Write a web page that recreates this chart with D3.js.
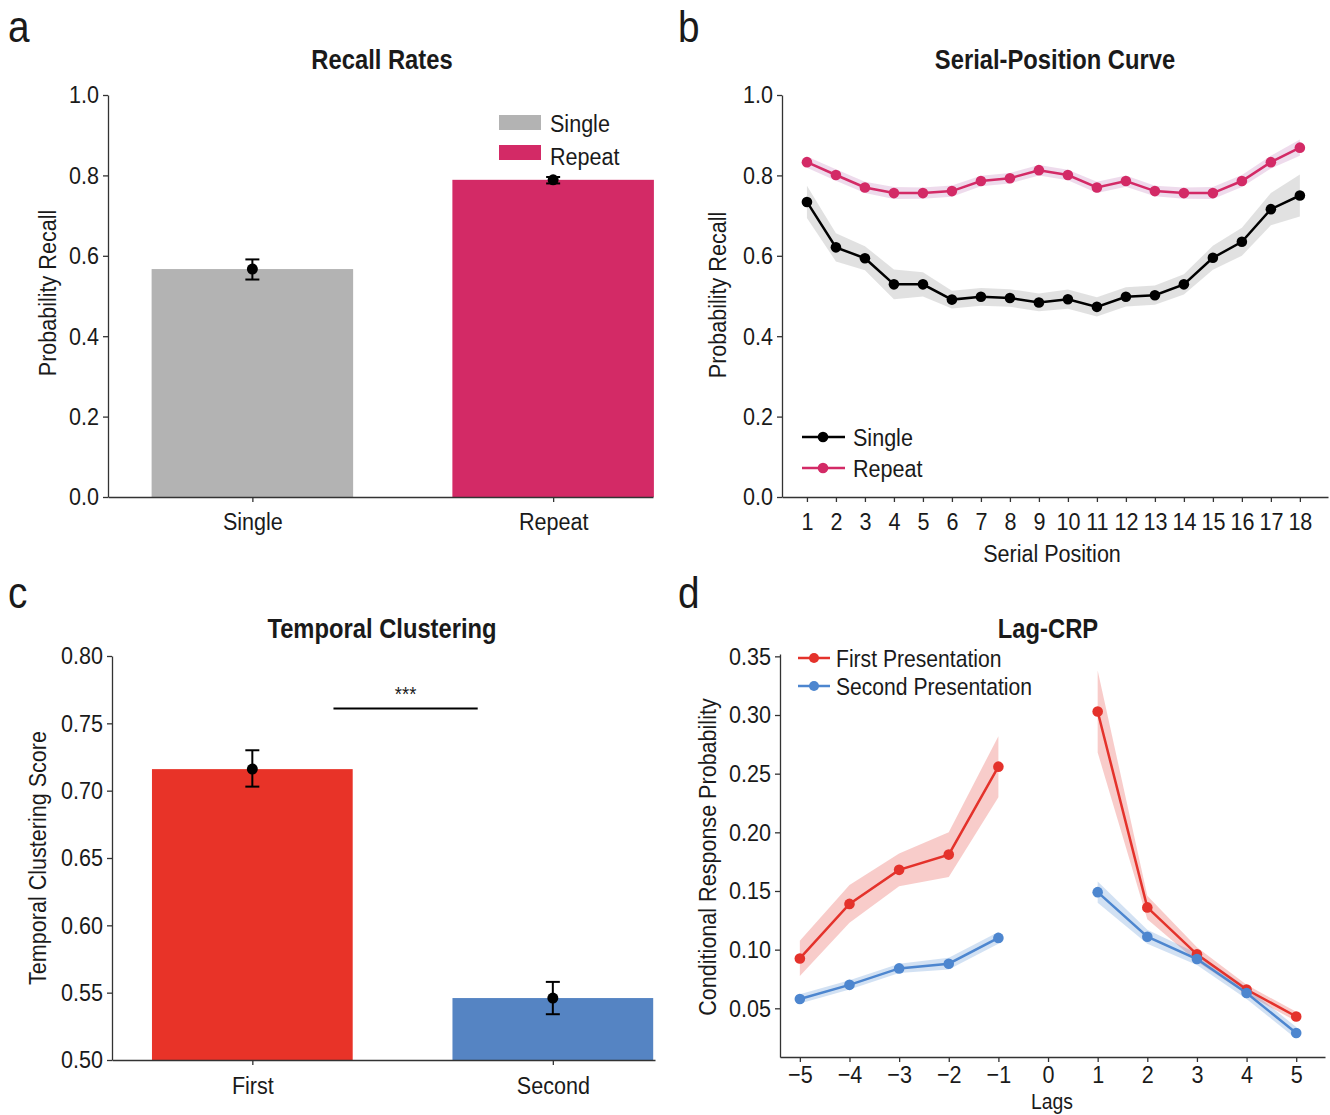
<!DOCTYPE html>
<html>
<head>
<meta charset="utf-8">
<script src="https://cdn.jsdelivr.net/npm/d3@7"></script>
<style>
  body { margin: 0; background: #fff; }
  svg text { font-family: "Liberation Sans", Arial, sans-serif; fill: #1a1a1a; }
  .axis path, .axis line { stroke: #333; stroke-width: 1.3; }
  .axis text { font-size: 24.5px; }
</style>
</head>
<body>
<svg id="fig" width="1330" height="1115"></svg>
<script>
// panel a: recall rates
const recallCats = ['Single', 'Repeat'];
const recallMeans = [0.567, 0.789];
const recallLo = [0.541, 0.780];
const recallHi = [0.591, 0.796];
const recallColors = ['#b3b3b3', '#d32a66'];

// panel b: serial-position curve
const positions = [1, 2, 3, 4, 5, 6, 7, 8, 9, 10, 11, 12, 13, 14, 15, 16, 17, 18];
const spcSingle = [0.734, 0.621, 0.594, 0.529, 0.529, 0.491, 0.498, 0.495, 0.484, 0.492, 0.473, 0.498, 0.502, 0.529, 0.595, 0.635, 0.716, 0.750];
const spcSingleErr = [0.04, 0.035, 0.03, 0.037, 0.03, 0.022, 0.022, 0.022, 0.022, 0.024, 0.024, 0.024, 0.024, 0.025, 0.03, 0.035, 0.04, 0.052];
const spcRepeat = [0.833, 0.801, 0.770, 0.756, 0.756, 0.761, 0.786, 0.793, 0.813, 0.801, 0.770, 0.786, 0.761, 0.756, 0.756, 0.786, 0.833, 0.869];
const spcRepeatErr = [0.014, 0.014, 0.014, 0.015, 0.014, 0.014, 0.013, 0.013, 0.013, 0.013, 0.014, 0.014, 0.013, 0.014, 0.015, 0.015, 0.016, 0.02];

// panel c: temporal clustering
const tcCats = ['First', 'Second'];
const tcMeans = [0.716, 0.546];
const tcLo = [0.703, 0.534];
const tcHi = [0.730, 0.558];
const tcColors = ['#e83328', '#5584c3'];
const sigLevel = 0.761;

// panel d: lag-CRP
const lagsNeg = [-5, -4, -3, -2, -1];
const lagsPos = [1, 2, 3, 4, 5];
const crpFirst = [0.0925, 0.139, 0.168, 0.181, 0.256, 0.303, 0.136, 0.096, 0.066, 0.043];
const crpFirstErr = [0.015, 0.016, 0.014, 0.019, 0.026, 0.035, 0.01, 0.006, 0.004, 0.004];
const crpSecond = [0.058, 0.070, 0.084, 0.088, 0.110, 0.149, 0.111, 0.092, 0.063, 0.029];
const crpSecondErr = [0.004, 0.004, 0.004, 0.005, 0.005, 0.009, 0.006, 0.005, 0.005, 0.005];
const crpColors = ['#e4322b', '#4d86cf'];

const SX = 0.88; // horizontal squeeze to mimic a condensed face
const svg = d3.select('#fig');

function panelLetter(t, x, y) {
  svg.append('text').attr('x', x).attr('y', y).attr('font-size', 44).text(t);
}
function title(t, x, y) {
  svg.append('text').attr('x', x).attr('y', y).attr('text-anchor', 'middle')
    .attr('font-size', 27).attr('font-weight', 'bold').text(t);
}
function yLabel(t, x, y) {
  svg.append('text').attr('class', 'rot').attr('transform', `translate(${x},${y}) rotate(-90) scale(${SX},1)`)
    .attr('text-anchor', 'middle').attr('font-size', 24.5).text(t);
}
function yAxis(scale, x, ticks, fmt) {
  svg.append('g').attr('class', 'axis').attr('transform', `translate(${x},0)`)
    .call(d3.axisLeft(scale).tickValues(ticks).tickFormat(d3.format(fmt)).tickSize(5).tickSizeOuter(0).tickPadding(4));
}

// ---------- a ----------
{
  const y = d3.scaleLinear().domain([0, 1]).range([497, 95]);
  const x = d3.scaleLinear().domain([-0.48, 1.332]).range([108, 653]);
  const bw = 0.67;
  panelLetter('a', 8, 42);
  title('Recall Rates', 382, 69);
  yLabel('Probability Recall', 56, 293);
  svg.selectAll('.barA').data(recallCats).enter().append('rect')
    .attr('x', (d, i) => x(i - bw / 2)).attr('width', x(bw) - x(0))
    .attr('y', (d, i) => y(recallMeans[i])).attr('height', (d, i) => y(0) - y(recallMeans[i]))
    .attr('fill', (d, i) => recallColors[i]);
  yAxis(y, 108, [0, 0.2, 0.4, 0.6, 0.8, 1.0], '.1f');
  svg.append('g').attr('class', 'axis').attr('transform', 'translate(0,497)')
    .call(d3.axisBottom(x).tickValues([0, 1]).tickFormat(i => recallCats[i]).tickSize(5).tickSizeOuter(0).tickPadding(11));
  recallCats.forEach((c, i) => {
    svg.append('line').attr('x1', x(i)).attr('x2', x(i)).attr('y1', y(recallLo[i])).attr('y2', y(recallHi[i]))
      .attr('stroke', '#000').attr('stroke-width', 2);
    [recallLo[i], recallHi[i]].forEach(v => svg.append('line').attr('x1', x(i) - 7).attr('x2', x(i) + 7)
      .attr('y1', y(v)).attr('y2', y(v)).attr('stroke', '#000').attr('stroke-width', 2));
    svg.append('circle').attr('cx', x(i)).attr('cy', y(recallMeans[i])).attr('r', 5.5).attr('fill', '#000');
  });
  recallCats.forEach((c, i) => {
    svg.append('rect').attr('x', 499).attr('y', 115 + i * 30).attr('width', 42).attr('height', 15).attr('fill', recallColors[i]);
    svg.append('text').attr('x', 550).attr('y', 132 + i * 33).attr('font-size', 24.5).text(c);
  });
}

// ---------- b ----------
{
  const y = d3.scaleLinear().domain([0, 1]).range([497, 95]);
  const x = d3.scaleLinear().domain([0.14, 18.97]).range([782, 1328]);
  panelLetter('b', 678, 42);
  title('Serial-Position Curve', 1055, 69);
  yLabel('Probability Recall', 726, 295);
  yAxis(y, 782, [0, 0.2, 0.4, 0.6, 0.8, 1.0], '.1f');
  svg.append('g').attr('class', 'axis').attr('transform', 'translate(0,497)')
    .call(d3.axisBottom(x).tickValues(positions).tickFormat(d3.format('d')).tickSize(5).tickSizeOuter(0).tickPadding(11));
  svg.append('text').attr('x', 1052).attr('y', 562).attr('text-anchor', 'middle').attr('font-size', 24.5).text('Serial Position');

  const series = [
    { name: 'Single', v: spcSingle, e: spcSingleErr, c: '#000000', band: '#9a9a9a' },
    { name: 'Repeat', v: spcRepeat, e: spcRepeatErr, c: '#d32a66', band: '#b05aa8' }
  ];
  series.forEach(s => {
    const area = d3.area().x((d, i) => x(positions[i])).y0((d, i) => y(d - s.e[i])).y1((d, i) => y(d + s.e[i]));
    svg.append('path').attr('d', area(s.v)).attr('fill', s.band).attr('opacity', s.name === 'Single' ? 0.3 : 0.22);
  });
  series.forEach(s => {
    const line = d3.line().x((d, i) => x(positions[i])).y(d => y(d));
    svg.append('path').attr('d', line(s.v)).attr('fill', 'none').attr('stroke', s.c).attr('stroke-width', 2.5);
    svg.selectAll(null).data(s.v).enter().append('circle')
      .attr('cx', (d, i) => x(positions[i])).attr('cy', d => y(d)).attr('r', 5.3).attr('fill', s.c);
  });
  series.forEach((s, i) => {
    const ly = 437 + i * 31;
    svg.append('line').attr('x1', 802).attr('x2', 845).attr('y1', ly).attr('y2', ly).attr('stroke', s.c).attr('stroke-width', 2.5);
    svg.append('circle').attr('cx', 823).attr('cy', ly).attr('r', 5.3).attr('fill', s.c);
    svg.append('text').attr('x', 853).attr('y', ly + 9).attr('font-size', 24.5).text(s.name);
  });
}

// ---------- c ----------
{
  const y = d3.scaleLinear().domain([0.5, 0.8]).range([1060, 656]);
  const x = d3.scaleLinear().domain([-0.467, 1.34]).range([112, 655]);
  const bw = 0.668;
  panelLetter('c', 8, 608);
  title('Temporal Clustering', 382, 638);
  yLabel('Temporal Clustering Score', 46, 858);
  svg.selectAll('.barC').data(tcCats).enter().append('rect')
    .attr('x', (d, i) => x(i - bw / 2)).attr('width', x(bw) - x(0))
    .attr('y', (d, i) => y(tcMeans[i])).attr('height', (d, i) => y(0.5) - y(tcMeans[i]))
    .attr('fill', (d, i) => tcColors[i]);
  yAxis(y, 112, [0.5, 0.55, 0.6, 0.65, 0.7, 0.75, 0.8], '.2f');
  svg.append('g').attr('class', 'axis').attr('transform', 'translate(0,1060)')
    .call(d3.axisBottom(x).tickValues([0, 1]).tickFormat(i => tcCats[i]).tickSize(5).tickSizeOuter(0).tickPadding(12));
  tcCats.forEach((c, i) => {
    svg.append('line').attr('x1', x(i)).attr('x2', x(i)).attr('y1', y(tcLo[i])).attr('y2', y(tcHi[i]))
      .attr('stroke', '#000').attr('stroke-width', 2);
    [tcLo[i], tcHi[i]].forEach(v => svg.append('line').attr('x1', x(i) - 7).attr('x2', x(i) + 7)
      .attr('y1', y(v)).attr('y2', y(v)).attr('stroke', '#000').attr('stroke-width', 2));
    svg.append('circle').attr('cx', x(i)).attr('cy', y(tcMeans[i])).attr('r', 5.5).attr('fill', '#000');
  });
  svg.append('line').attr('x1', x(0.27)).attr('x2', x(0.75)).attr('y1', y(sigLevel)).attr('y2', y(sigLevel))
    .attr('stroke', '#000').attr('stroke-width', 2);
  svg.append('text').attr('x', x(0.51)).attr('y', y(sigLevel) - 8).attr('text-anchor', 'middle')
    .attr('font-size', 21).text('***');
}

// ---------- d ----------
{
  const y = d3.scaleLinear().domain([0.0085, 0.352]).range([1057, 654]);
  const x = d3.scaleLinear().domain([-5.4, 5.58]).range([780, 1325]);
  panelLetter('d', 678, 608);
  title('Lag-CRP', 1048, 638);
  yLabel('Conditional Response Probability', 716, 857);
  yAxis(y, 780, [0.05, 0.1, 0.15, 0.2, 0.25, 0.3, 0.35], '.2f');
  const lags = [-5, -4, -3, -2, -1, 0, 1, 2, 3, 4, 5];
  svg.append('g').attr('class', 'axis').attr('transform', 'translate(0,1057)')
    .call(d3.axisBottom(x).tickValues(lags).tickFormat(d => d < 0 ? '\u2212' + Math.abs(d) : d).tickSize(5).tickSizeOuter(0).tickPadding(4));
  svg.append('text').attr('x', 1052).attr('y', 1109).attr('text-anchor', 'middle').attr('font-size', 22).text('Lags');

  const allLags = lagsNeg.concat(lagsPos);
  const series = [
    { name: 'First Presentation', v: crpFirst, e: crpFirstErr, c: crpColors[0] },
    { name: 'Second Presentation', v: crpSecond, e: crpSecondErr, c: crpColors[1] }
  ];
  [[0, 5], [5, 10]].forEach(([a, b]) => {
    series.forEach(s => {
      const idx = d3.range(a, b);
      const area = d3.area().x(i => x(allLags[i])).y0(i => y(s.v[i] - s.e[i])).y1(i => y(s.v[i] + s.e[i]));
      svg.append('path').attr('d', area(idx)).attr('fill', s.c).attr('opacity', 0.25);
    });
  });
  [[0, 5], [5, 10]].forEach(([a, b]) => {
    series.forEach(s => {
      const idx = d3.range(a, b);
      const line = d3.line().x(i => x(allLags[i])).y(i => y(s.v[i]));
      svg.append('path').attr('d', line(idx)).attr('fill', 'none').attr('stroke', s.c).attr('stroke-width', 2.5);
      svg.selectAll(null).data(idx).enter().append('circle')
        .attr('cx', i => x(allLags[i])).attr('cy', i => y(s.v[i])).attr('r', 5.3).attr('fill', s.c);
    });
  });
  series.forEach((s, i) => {
    const ly = 658 + i * 28;
    svg.append('line').attr('x1', 798).attr('x2', 830).attr('y1', ly).attr('y2', ly).attr('stroke', s.c).attr('stroke-width', 2.5);
    svg.append('circle').attr('cx', 814).attr('cy', ly).attr('r', 5).attr('fill', s.c);
    svg.append('text').attr('x', 836).attr('y', ly + 9).attr('font-size', 24).text(s.name);
  });
}

// squeeze every horizontal text about its own anchor
svg.selectAll('text').each(function () {
  const t = d3.select(this);
  if (t.classed('rot')) return;
  const x = +t.attr('x') || 0;
  const y = +t.attr('y') || 0;
  const prev = t.attr('transform') || '';
  t.attr('transform', `${prev} translate(${x},${y}) scale(${SX},1) translate(${-x},${-y})`);
});
</script>
</body>
</html>
